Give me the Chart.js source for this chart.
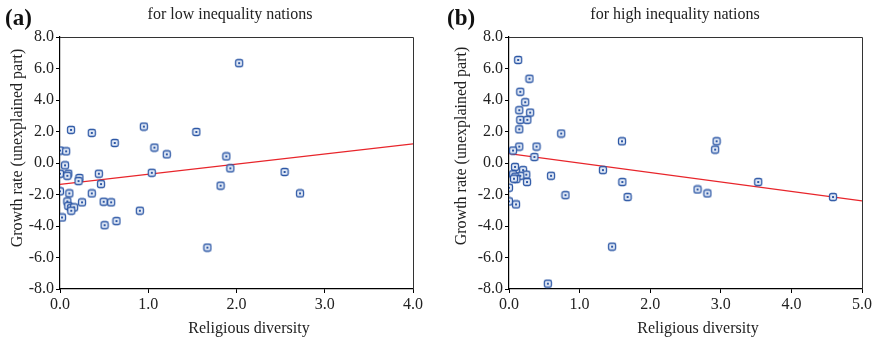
<!DOCTYPE html>
<html>
<head>
<meta charset="utf-8">
<script src="https://cdn.jsdelivr.net/npm/chart.js@4.4.1/dist/chart.umd.min.js"></script>
<style>
  body { margin: 0; background: #fff; }
  #wrap { position: relative; width: 878px; height: 341px; }
  .box { position: absolute; top: 0; height: 341px; }
</style>
</head>
<body>
<div id="wrap">
  <div class="box" style="left:0;width:440px"><canvas id="chartA"></canvas></div>
  <div class="box" style="left:440px;width:438px"><canvas id="chartB"></canvas></div>
</div>
<script>
// low inequality nations
const lowX = [2.03, 0.125, 0.36, 0.95, 1.545, 0.62, 1.07, 1.21, 1.885, 1.93, 2.545, 2.72, 1.82, 1.67,
    1.04, 0.905, 0.64, 0.505, 0.495, 0.58, 0.44, 0.465, 0.36, 0.25, 0.22, 0.21, 0.0, 0.07, 0.057,
    0.0, 0.094, 0.083, 0.0, 0.106, 0.083, 0.094, 0.128, 0.16, 0.128, 0.023];
const lowY = [6.34, 2.10, 1.91, 2.31, 1.97, 1.27, 0.98, 0.55, 0.42, -0.34, -0.57, -1.93, -1.44, -5.37,
    -0.62, -3.03, -3.69, -3.95, -2.46, -2.50, -0.68, -1.34, -1.93, -2.50, -0.95, -1.15, 0.79, 0.74, -0.15,
    -0.68, -0.68, -0.81, -1.80, -1.93, -2.44, -2.72, -2.84, -2.82, -3.03, -3.46];
const lowFitX = [0, 4];
const lowFitY = [-1.36, 1.21];

// high inequality nations
const highX = [0.13, 0.29, 0.16, 0.23, 0.146, 0.30, 0.16, 0.26, 0.146, 0.74, 1.60, 2.94, 2.92, 0.146,
    0.39, 0.057, 0.36, 0.085, 0.20, 0.057, 0.245, 0.16, 0.09, 0.104, 0.07, 0.255, 0.595, 1.33, 1.605,
    0.80, 1.68, 2.67, 2.81, 3.53, 4.59, 0.0, 0.0, 0.10, 1.46, 0.55];
const highY = [6.54, 5.35, 4.52, 3.86, 3.35, 3.20, 2.74, 2.74, 2.14, 1.87, 1.38, 1.38, 0.85, 1.04,
    1.04, 0.79, 0.38, -0.25, -0.45, -0.72, -0.74, -0.81, -0.87, -1.02, -1.0, -1.21, -0.81, -0.45, -1.21,
    -2.04, -2.16, -1.68, -1.93, -1.21, -2.16, -1.57, -2.44, -2.63, -5.31, -7.66];
const highFitX = [0, 5];
const highFitY = [0.59, -2.40];

const yTicks = [-8, -6, -4, -2, 0, 2, 4, 6, 8];

const serif = '"Liberation Serif", "DejaVu Serif", serif';
const blue = '#2c57a5';

// marker: rounded square with a dot in the middle
const marker = document.createElement('canvas');
marker.width = 10; marker.height = 10;
(function () {
    const c = marker.getContext('2d');
    c.fillStyle = '#e6edf8';
    c.strokeStyle = blue;
    c.lineWidth = 1.3;
    c.beginPath();
    c.roundRect(1.5, 1.5, 7, 7, 1.8);
    c.fill();
    c.stroke();
    c.fillStyle = blue;
    c.fillRect(4, 4, 2, 2);
})();

function pts(xs, ys) {
    return xs.map((x, i) => ({ x: x, y: ys[i] }));
}

function makeChart(id, o) {
    const textPlugin = {
        id: 'texts',
        afterDraw(chart) {
            const ctx = chart.ctx;
            const a = chart.chartArea;
            ctx.save();
            // top and right frame
            ctx.strokeStyle = '#333';
            ctx.lineWidth = 1;
            ctx.beginPath();
            ctx.moveTo(a.left, a.top + 0.5);
            ctx.lineTo(a.right + 0.5, a.top + 0.5);
            ctx.lineTo(a.right + 0.5, a.bottom);
            ctx.stroke();

            ctx.fillStyle = '#111';
            ctx.font = 'bold 23px ' + serif;
            ctx.textAlign = 'left';
            ctx.textBaseline = 'middle';
            ctx.fillText(o.tag, o.tagX, 19);

            ctx.fillStyle = '#222';
            ctx.font = '16px ' + serif;
            ctx.textAlign = 'center';
            ctx.fillText(o.title, o.titleX, 15);
            ctx.fillText('Religious diversity', o.xTitleX, 329);

            ctx.translate(o.yTitleX, o.yTitleY);
            ctx.rotate(-Math.PI / 2);
            ctx.fillText('Growth rate (unexplained part)', 0, 0);
            ctx.restore();
        }
    };

    new Chart(document.getElementById(id), {
        type: 'scatter',
        data: {
            datasets: [{
                data: pts(o.xs, o.ys),
                pointStyle: marker,
                pointRadius: 5,
                pointHoverRadius: 5
            }, {
                type: 'line',
                data: pts(o.fitX, o.fitY),
                borderColor: '#e8252b',
                borderWidth: 1.2,
                pointRadius: 0,
                fill: false
            }]
        },
        options: {
            responsive: true,
            maintainAspectRatio: false,
            animation: false,
            layout: { padding: { left: 0, right: o.padRight, top: 37, bottom: 0 } },
            plugins: {
                legend: { display: false },
                tooltip: { enabled: false }
            },
            scales: {
                x: {
                    type: 'linear',
                    min: 0,
                    max: o.xMax,
                    afterFit(s) { s.height = 52; },
                    border: { display: true, color: '#000', width: 1.2 },
                    grid: { drawOnChartArea: false, drawTicks: true, tickLength: 4, color: '#000' },
                    ticks: {
                        stepSize: 1,
                        padding: 2,
                        color: '#222',
                        font: { family: serif, size: 16 },
                        callback: v => v.toFixed(1)
                    }
                },
                y: {
                    min: -8,
                    max: 8,
                    afterFit(s) { s.width = o.yWidth; },
                    afterBuildTicks(s) { s.ticks = yTicks.map(v => ({ value: v })); },
                    border: { display: true, color: '#000', width: 1.2 },
                    grid: { drawOnChartArea: false, drawTicks: true, tickLength: 4, color: '#000' },
                    ticks: {
                        padding: 2,
                        color: '#222',
                        font: { family: serif, size: 16 },
                        callback: v => v.toFixed(1)
                    }
                }
            }
        },
        plugins: [textPlugin]
    });
}

makeChart('chartA', {
    xs: lowX, ys: lowY, fitX: lowFitX, fitY: lowFitY, xMax: 4,
    yWidth: 60, padRight: 27,
    tag: '(a)', tagX: 5, title: 'for low inequality nations', titleX: 230,
    xTitleX: 249, yTitleX: 18, yTitleY: 148
});

makeChart('chartB', {
    xs: highX, ys: highY, fitX: highFitX, fitY: highFitY, xMax: 5,
    yWidth: 69, padRight: 16,
    tag: '(b)', tagX: 7, title: 'for high inequality nations', titleX: 235,
    xTitleX: 258, yTitleX: 22, yTitleY: 146
});
</script>
</body>
</html>
